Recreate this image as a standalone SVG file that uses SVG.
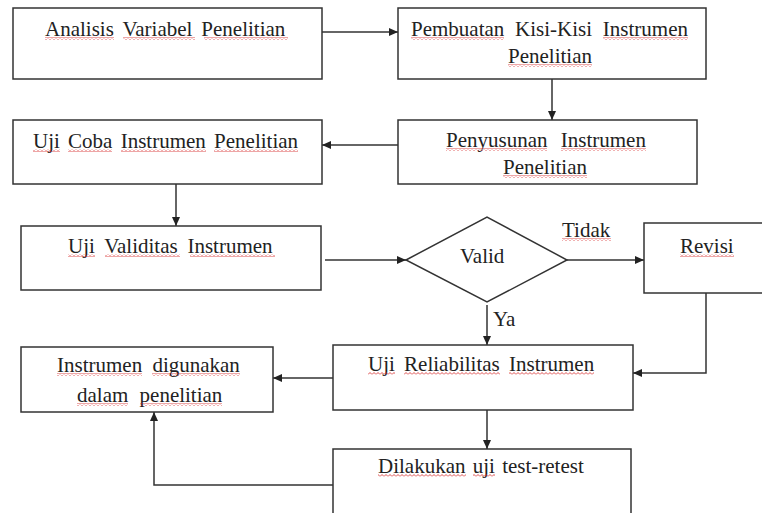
<svg xmlns="http://www.w3.org/2000/svg" width="762" height="513" viewBox="0 0 762 513" font-family="Liberation Serif, DejaVu Serif, serif">
<style>
.box{fill:#fff;stroke:#333;stroke-width:1.5}
.t{font-size:21px;fill:#222}
.c{fill:none;stroke:#333;stroke-width:1.5}
.sq{fill:url(#wave)}
</style>
<defs>
<marker id="ah" markerUnits="userSpaceOnUse" markerWidth="10" markerHeight="8" refX="9" refY="4" orient="auto">
<path d="M0,0 L9,4 L0,8 Z" fill="#222"/>
</marker>
<pattern id="wave" patternUnits="userSpaceOnUse" width="4" height="3">
<path d="M0,2.5 L2,0.5 L4,2.5" fill="none" stroke="#d42020" stroke-width="0.8"/>
</pattern>
</defs>
<rect width="762" height="513" fill="#fff"/>
<g id="connectors">
<path class="c" d="M322,32 H398" marker-end="url(#ah)"/>
<path class="c" d="M552,79 V120" marker-end="url(#ah)"/>
<path class="c" d="M398,145 H322" marker-end="url(#ah)"/>
<path class="c" d="M176,184 V226" marker-end="url(#ah)"/>
<path class="c" d="M325,260 H406" marker-end="url(#ah)"/>
<path class="c" d="M567,260 H644" marker-end="url(#ah)"/>
<path class="c" d="M487,305 V345" marker-end="url(#ah)"/>
<path class="c" d="M706,293 V373 H633" marker-end="url(#ah)"/>
<path class="c" d="M333,378 H273" marker-end="url(#ah)"/>
<path class="c" d="M487,410 V449" marker-end="url(#ah)"/>
<path class="c" d="M333,485 H154 V412" marker-end="url(#ah)"/>
<text class="t" font-family="Liberation Serif" x="562" y="237">Tidak</text>
<text class="t" font-family="Liberation Serif" x="493" y="326">Ya</text>
</g>
<g id="n1">
<rect class="box" x="13" y="8" width="309" height="71"/>
<text class="t" font-family="Liberation Serif" x="45" y="36" word-spacing="3.7">Analisis Variabel Penelitian</text>
</g>
<g id="n2">
<rect class="box" x="398" y="8" width="308" height="71"/>
<text class="t" font-family="Liberation Serif" x="411" y="36" word-spacing="5.5">Pembuatan Kisi-Kisi Instrumen</text>
<text class="t" font-family="Liberation Serif" x="508" y="63">Penelitian</text>
</g>
<g id="n3">
<rect class="box" x="398" y="120" width="299" height="64"/>
<text class="t" font-family="Liberation Serif" x="446" y="147" word-spacing="8">Penyusunan Instrumen</text>
<text class="t" font-family="Liberation Serif" x="503" y="174">Penelitian</text>
</g>
<g id="n4">
<rect class="box" x="13" y="120" width="309" height="64"/>
<text class="t" font-family="Liberation Serif" x="33" y="148" word-spacing="3">Uji Coba Instrumen Penelitian</text>
</g>
<g id="n5">
<rect class="box" x="21" y="226" width="300" height="64"/>
<text class="t" font-family="Liberation Serif" x="68" y="253" word-spacing="4.5">Uji Validitas Instrumen</text>
</g>
<g id="n6">
<polygon class="box" points="406,260 487,217 567,260 487,302"/>
<text class="t" font-family="Liberation Serif" x="460" y="263">Valid</text>
</g>
<g id="n7">
<rect class="box" x="644" y="223" width="130" height="70"/>
<text class="t" font-family="Liberation Serif" x="680" y="253">Revisi</text>
</g>
<g id="n8">
<rect class="box" x="333" y="345" width="300" height="65"/>
<text class="t" font-family="Liberation Serif" x="368" y="371" word-spacing="4">Uji Reliabilitas Instrumen</text>
</g>
<g id="n9">
<rect class="box" x="21" y="347" width="252" height="65"/>
<text class="t" font-family="Liberation Serif" x="57" y="372" word-spacing="5">Instrumen digunakan</text>
<text class="t" font-family="Liberation Serif" x="77" y="402" word-spacing="6">dalam penelitian</text>
</g>
<g id="n10">
<rect class="box" x="333" y="449" width="298" height="80"/>
<text class="t" font-family="Liberation Serif" x="378" y="473" word-spacing="2">Dilakukan uji test-retest</text>
</g>
<g id="spellcheck">
<rect class="sq" x="45" y="37" width="69" height="3"/>
<rect class="sq" x="123" y="37" width="72" height="3"/>
<rect class="sq" x="204" y="37" width="84" height="3"/>
<rect class="sq" x="411" y="37" width="93" height="3"/>
<rect class="sq" x="603" y="37" width="85" height="3"/>
<rect class="sq" x="508" y="64" width="84" height="3"/>
<rect class="sq" x="446" y="148" width="101" height="3"/>
<rect class="sq" x="561" y="148" width="85" height="3"/>
<rect class="sq" x="503" y="175" width="84" height="3"/>
<rect class="sq" x="33" y="149" width="27" height="3"/>
<rect class="sq" x="68" y="149" width="44" height="3"/>
<rect class="sq" x="121" y="149" width="85" height="3"/>
<rect class="sq" x="214" y="149" width="84" height="3"/>
<rect class="sq" x="68" y="254" width="27" height="3"/>
<rect class="sq" x="105" y="254" width="75" height="3"/>
<rect class="sq" x="190" y="254" width="85" height="3"/>
<rect class="sq" x="562" y="238" width="49" height="3"/>
<rect class="sq" x="680" y="254" width="54" height="3"/>
<rect class="sq" x="368" y="372" width="27" height="3"/>
<rect class="sq" x="404" y="372" width="96" height="3"/>
<rect class="sq" x="509" y="372" width="85" height="3"/>
<rect class="sq" x="57" y="373" width="85" height="3"/>
<rect class="sq" x="152" y="373" width="88" height="3"/>
<rect class="sq" x="77" y="403" width="51" height="3"/>
<rect class="sq" x="140" y="403" width="82" height="3"/>
<rect class="sq" x="378" y="474" width="88" height="3"/>
<rect class="sq" x="473" y="474" width="22" height="3"/>
</g>
</svg>
